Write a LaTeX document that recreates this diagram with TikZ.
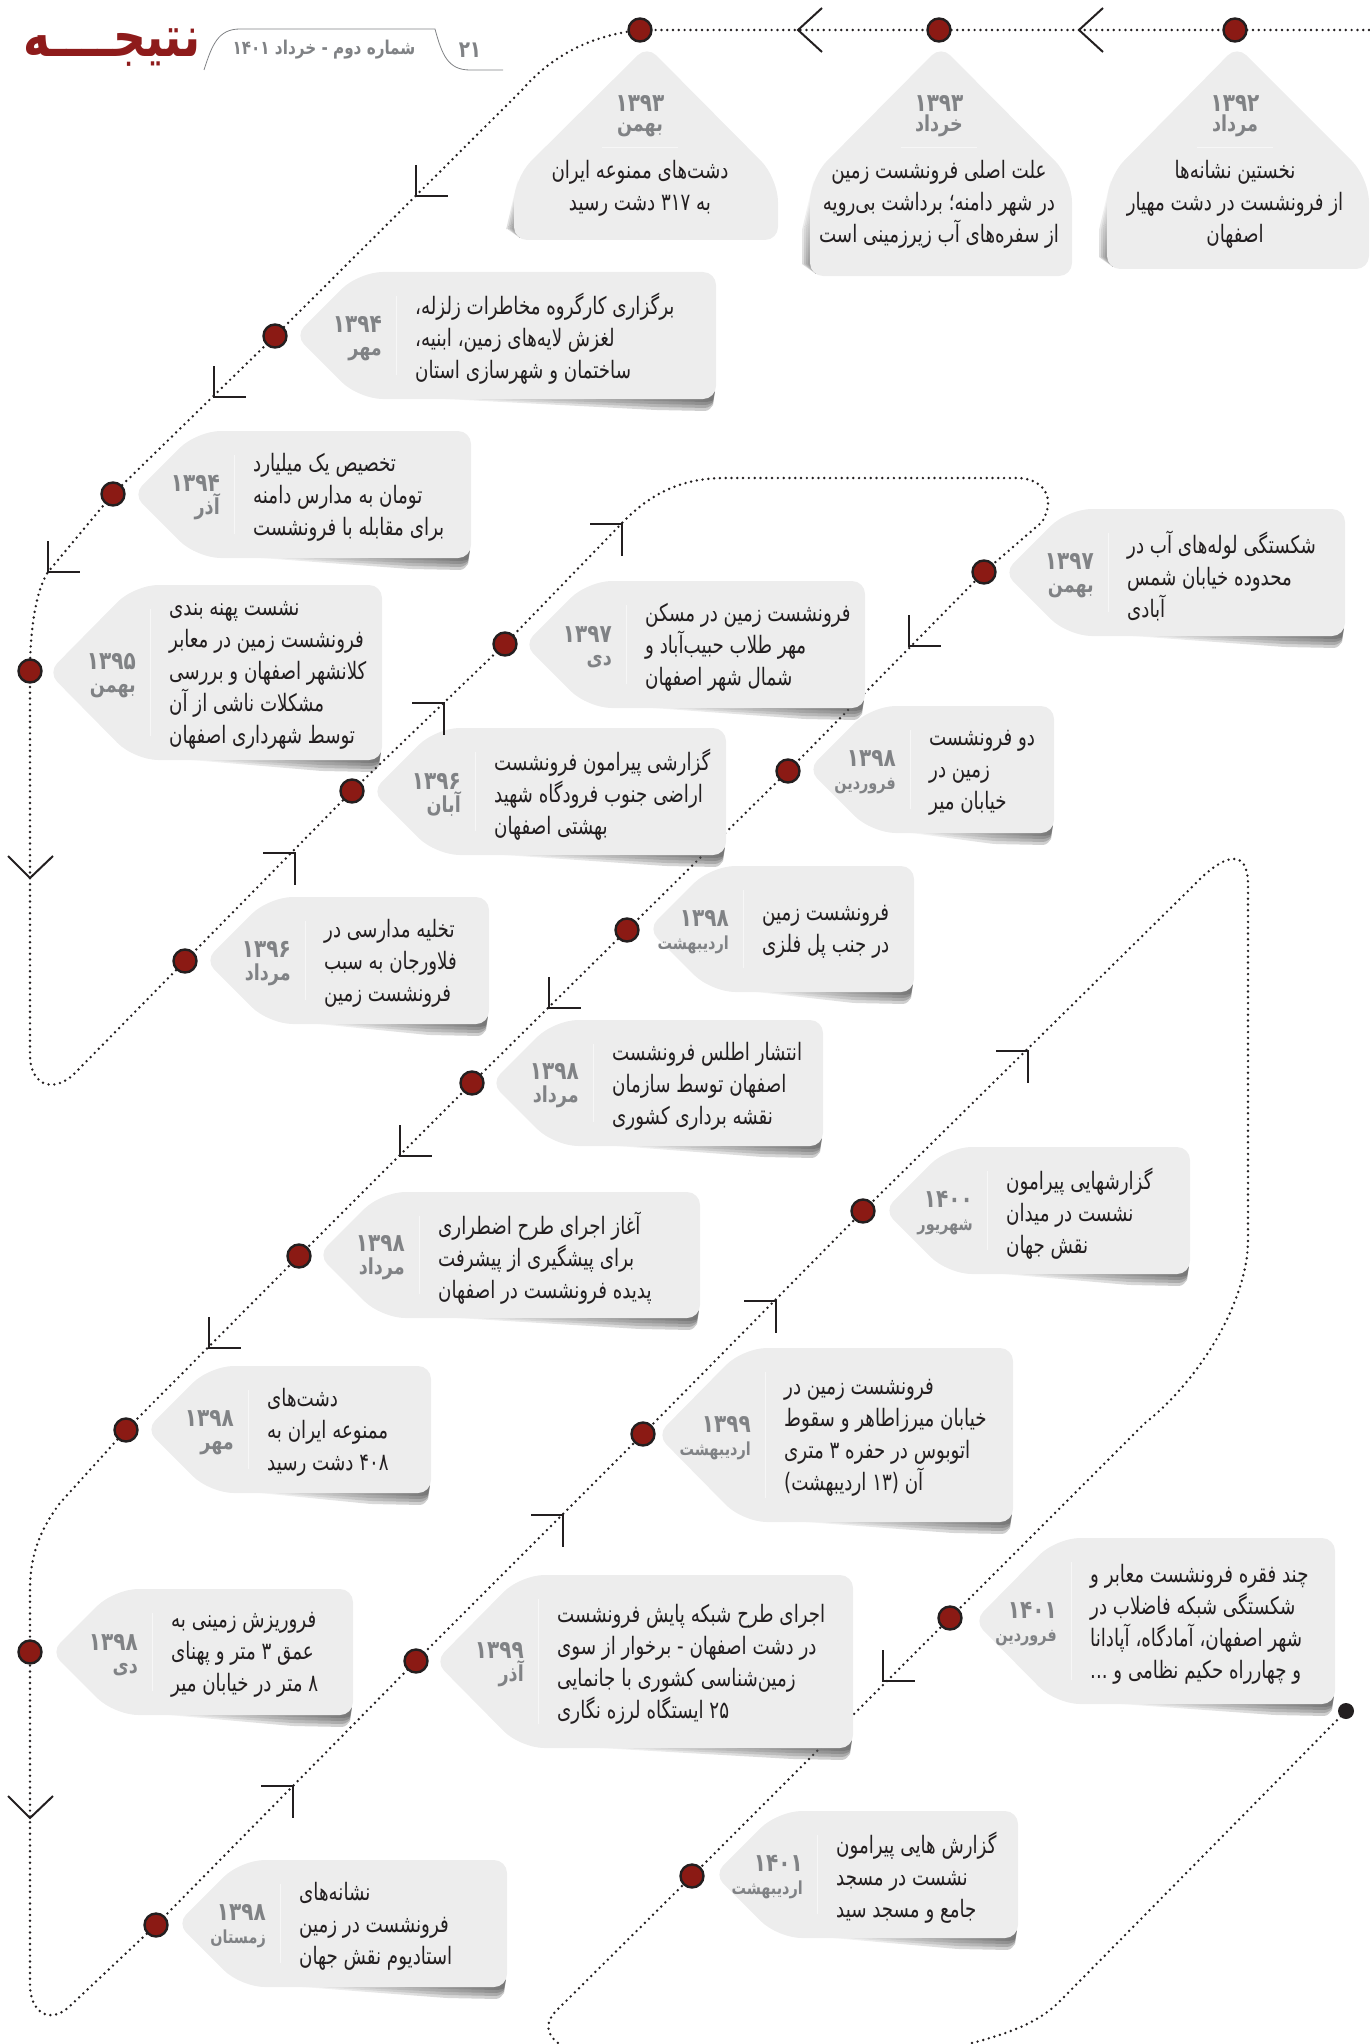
\documentclass[tikz,border=0pt]{standalone}
\usepackage{fontspec}
\usetikzlibrary{calc}
\TeXXeTstate=1
\newfontfamily\bodyf[Script=Arabic,FakeStretch=0.76]{DejaVu Sans}
\newfontfamily\yearf[Script=Arabic,FakeStretch=0.8]{DejaVu Sans Bold}
\definecolor{cardc}{HTML}{EDEDED}
\definecolor{yearc}{HTML}{808285}
\definecolor{inkc}{HTML}{231F20}
\definecolor{dotc}{HTML}{8B1A14}
\definecolor{logoc}{HTML}{8E1B1B}
\newcommand{\Rl}[1]{\beginR #1\endR}
\newcommand{\Ys}{\fontsize{25}{23}\selectfont}
\newcommand{\Ms}{\fontsize{22}{23}\selectfont}
\newcommand{\Mt}{\fontsize{18}{23}\selectfont}
\tikzset{
  tl/.style={line width=2.7pt,dash pattern=on 0pt off 5.8pt,line cap=round,draw=inkc},
  redot/.style={circle,fill=dotc,draw=inkc,line width=2.4pt,minimum size=23pt,inner sep=0pt},
  enddot/.style={circle,fill=inkc,minimum size=16pt,inner sep=0pt},
  markl/.style={draw=inkc,line width=2pt,line cap=butt},
  cardf/.style={fill=cardc},
  bodyt/.style={font=\bodyf\fontsize{24}{32}\selectfont,text=inkc,inner sep=0pt},
  yeart/.style={font=\yearf\fontsize{25}{23}\selectfont,text=yearc,inner sep=0pt,align=right,anchor=east},
  yeartop/.style={font=\yearf\fontsize{25}{20}\selectfont,text=yearc,inner sep=0pt,align=center,anchor=center},
  sepl/.style={draw=white!55!cardc,line width=1pt},
}
\pgfdeclarelayer{bglay}
\pgfdeclarelayer{midlay}
\pgfsetlayers{bglay,midlay,main}
% name, tip, top, bottom, right, year, month, sep, lines
\newcommand{\sidecard}[9]{%
  \pgfmathsetmacro{\mm}{(#3+#4)/2}%
  \pgfmathsetmacro{\sh}{#2+0.47*(#4-#3)}%
  \begin{pgfonlayer}{midlay}
  \foreach \dd in {3,6,9,12} {
    \shade[left color=white,right color=black!75,opacity=0.27]
      (\sh+10,#4-4) -- (#5-1,#4-8) -- (#5-3,#4+\dd/2) [rounded corners=3pt] -- (#5-8,#4+\dd) -- (#5-60,#4+\dd-1) -- cycle;
  }
  \fill[cardf,rounded corners=13pt] (#2-4,\mm) [rounded corners=24pt] -- (\sh,#3) [rounded corners=13pt] -- (#5,#3) -- (#5,#4) [rounded corners=24pt] -- (\sh,#4) [rounded corners=13pt] -- cycle;
  \draw[sepl] (#8,#3+24) -- (#8,#4-24);
  \end{pgfonlayer}
  \node[yeart] (#1y) at (#8-14,\mm+3) {\Rl{\Ys #6}\\\Rl{\Ms #7}};
  \node[bodyt,anchor=west,align=left] (#1t) at (#8+19,\mm+3) {#9};
}
% name, tipx, textx, left, right, bottom, year, month, lines
\newcommand{\topcard}[9]{%
  \begin{pgfonlayer}{midlay}
  \foreach \dd in {2,4,6,8} {
    \shade[top color=white,bottom color=black!60,opacity=0.27]
      (#4+4,178) -- (#4-\dd,230) -- (#4-\dd,#6-12) -- (#4+6,#6-2) -- cycle;
  }
  \fill[cardf,rounded corners=13pt] (#2,46) [rounded corners=24pt] -- (#5,178) [rounded corners=13pt] -- (#5,#6) -- (#4,#6) [rounded corners=24pt] -- (#4,178) [rounded corners=13pt] -- cycle;
  \draw[sepl] (#3-38,148) -- (#3+38,148);
  \end{pgfonlayer}
  \node[yeartop] (#1y) at (#3,116) {\Rl{\Ys #7}\\\Rl{\Ms #8}};
  \node[bodyt,anchor=north,align=center] (#1t) at (#3,160) {#9};
}
\newcommand{\markdl}[2]{\draw[markl] (#1,#2-31) -- (#1,#2) -- (#1+32,#2);}
\newcommand{\markur}[2]{\draw[markl] (#1-32,#2) -- (#1,#2) -- (#1,#2+32);}
\begin{document}
\begin{tikzpicture}[x=1pt,y=-1pt]
\useasboundingbox (0,0) rectangle (1369,2044);
% timeline dots
\foreach \n/\x/\y in {1/1235/30,2/939/30,3/640/30,4/275/336,5/113/494,6/30/671,7/185/961,8/352/791,9/505/644,10/984/572,11/788/771,12/627/930,13/472/1083,14/299/1256,15/126/1430,16/30/1652,17/156/1925,18/416/1661,19/643/1434,20/863/1211,21/950/1618,22/692/1876}
  \node[redot] (d\n) at (\x,\y) {};
\node[enddot] (dend) at (1346,1711) {};
\coordinate (startc) at (1369,30);
\coordinate (lefta) at (558,2043);
\coordinate (leftb) at (972,2043);
% the line
\begin{pgfonlayer}{bglay}
\draw[tl] (startc) -- (d1.center) -- (d2.center) -- (d3.center)
  .. controls (585,36) and (548,60) .. (522,90)
  -- (d4.center) -- (d5.center) -- (48,572)
  .. controls (36,590) and (30,630) .. (d6.center)
  -- (30,1055) .. controls (30,1082) and (50,1095) .. (73,1075)
  -- (d7.center) -- (d8.center) -- (d9.center) -- (625,520)
  .. controls (650,495) and (680,478) .. (725,478)
  -- (1017,478) .. controls (1040,478) and (1058,495) .. (1042,522)
  -- (d10.center) -- (d11.center) -- (d12.center) -- (d13.center) -- (d14.center) -- (d15.center) -- (60,1503)
  .. controls (40,1530) and (30,1555) .. (30,1590)
  -- (d16.center) -- (30,1985) .. controls (30,2012) and (50,2026) .. (71,2005)
  -- (d17.center) -- (d18.center) -- (d19.center) -- (d20.center) -- (1195,884)
  .. controls (1222,856) and (1248,845) .. (1248,885)
  -- (1248,1240) .. controls (1248,1300) and (1200,1380) .. (1145,1423)
  -- (d21.center) -- (d22.center) -- (556,2011)
  .. controls (545,2022) and (546,2034) .. (lefta);
\draw[tl] (leftb) .. controls (1010,2033) and (1040,2022) .. (1061,2000) -- (dend.center);
\end{pgfonlayer}
% chevrons
\foreach \x in {798,1079} \draw[markl] (\x+24,8) -- (\x,30) -- (\x+24,52);
\foreach \y in {878,1818} \draw[markl] (8,\y-22) -- (30,\y) -- (53,\y-22);
% corner marks
\markdl{416}{196}\markdl{214}{397}\markdl{48}{572}\markdl{909}{646}\markdl{549}{1008}\markdl{400}{1156}\markdl{209}{1348}\markdl{883}{1681}
\markur{622}{524}\markur{444}{703}\markur{295}{853}\markur{1028}{1051}\markur{776}{1301}\markur{563}{1515}\markur{293}{1786}
% header
\draw[yearc,line width=0.8pt] (204,70) .. controls (212,45) and (218,29) .. (240,29) -- (435,29) .. controls (442,55) and (448,70) .. (470,70) -- (503,70);
\node[font=\yearf\fontsize{19}{22}\selectfont,text=yearc,inner sep=0pt] (issue) at (324,50) {\Rl{شماره دوم - خرداد ۱۴۰۱}};
\node[font=\yearf\fontsize{23}{25}\selectfont,text=yearc,inner sep=0pt] (pagen) at (470,50) {\Rl{۲۱}};
\node[font=\yearf\fontsize{57}{60}\selectfont,text=logoc,inner sep=0pt] (logo) at (112,48) {\Rl{نتیجــــه}};
% cards
\topcard{c1}{1237}{1235}{1107}{1369}{269}{۱۳۹۲}{مرداد}{\Rl{نخستین نشانه‌ها}\\\Rl{از فرونشست در دشت مهیار}\\\Rl{اصفهان}}
\topcard{c2}{941}{939}{810}{1072}{276}{۱۳۹۳}{خرداد}{\Rl{علت اصلی فرونشست زمین}\\\Rl{در شهر دامنه؛ برداشت بی‌رویه}\\\Rl{از سفره‌های آب زیرزمینی است}}
\topcard{c3}{647}{640}{514}{778}{240}{۱۳۹۳}{بهمن}{\Rl{دشت‌های ممنوعه ایران}\\\Rl{به ۳۱۷ دشت رسید}}
\sidecard{c4}{299}{272}{399}{716}{۱۳۹۴}{مهر}{396}{\Rl{برگزاری کارگروه مخاطرات زلزله،}\\\Rl{لغزش لایه‌های زمین، ابنیه،}\\\Rl{ساختمان و شهرسازی استان}}
\sidecard{c5}{137}{431}{558}{471}{۱۳۹۴}{آذر}{234}{\Rl{تخصیص یک میلیارد}\\\Rl{تومان به مدارس دامنه}\\\Rl{برای مقابله با فرونشست}}
\sidecard{c6}{52}{585}{760}{382}{۱۳۹۵}{بهمن}{150}{\Rl{نشست پهنه بندی}\\\Rl{فرونشست زمین در معابر}\\\Rl{کلانشهر اصفهان و بررسی}\\\Rl{مشکلات ناشی از آن}\\\Rl{توسط شهرداری اصفهان}}
\sidecard{c7}{209}{897}{1024}{489}{۱۳۹۶}{مرداد}{305}{\Rl{تخلیه مدارسی در}\\\Rl{فلاورجان به سبب}\\\Rl{فرونشست زمین}}
\sidecard{c8}{376}{728}{855}{726}{۱۳۹۶}{آبان}{475}{\Rl{گزارشی پیرامون فرونشست}\\\Rl{اراضی جنوب فرودگاه شهید}\\\Rl{بهشتی اصفهان}}
\sidecard{c9}{528}{581}{708}{865}{۱۳۹۷}{دی}{626}{\Rl{فرونشست زمین در مسکن}\\\Rl{مهر طلاب حبیب‌آباد و}\\\Rl{شمال شهر اصفهان}}
\sidecard{c10}{1008}{509}{636}{1345}{۱۳۹۷}{بهمن}{1108}{\Rl{شکستگی لوله‌های آب در}\\\Rl{محدوده خیابان شمس}\\\Rl{آبادی}}
\sidecard{c11}{812}{706}{833}{1054}{۱۳۹۸}{\Mt فروردین}{910}{\Rl{دو فرونشست}\\\Rl{زمین در}\\\Rl{خیابان میر}}
\sidecard{c12}{652}{866}{992}{914}{۱۳۹۸}{\Mt اردیبهشت}{743}{\Rl{فرونشست زمین}\\\Rl{در جنب پل فلزی}}
\sidecard{c13}{495}{1020}{1146}{823}{۱۳۹۸}{مرداد}{593}{\Rl{انتشار اطلس فرونشست}\\\Rl{اصفهان توسط سازمان}\\\Rl{نقشه برداری کشوری}}
\sidecard{c14}{322}{1192}{1318}{700}{۱۳۹۸}{مرداد}{419}{\Rl{آغاز اجرای طرح اضطراری}\\\Rl{برای پیشگیری از پیشرفت}\\\Rl{پدیده فرونشست در اصفهان}}
\sidecard{c15}{150}{1366}{1493}{431}{۱۳۹۸}{مهر}{248}{\Rl{دشت‌های}\\\Rl{ممنوعه ایران به}\\\Rl{۴۰۸ دشت رسید}}
\sidecard{c16}{55}{1589}{1715}{353}{۱۳۹۸}{دی}{152}{\Rl{فروریزش زمینی به}\\\Rl{عمق ۳ متر و پهنای}\\\Rl{۸ متر در خیابان میر}}
\sidecard{c17}{181}{1860}{1987}{507}{۱۳۹۸}{\Mt زمستان}{280}{\Rl{نشانه‌های}\\\Rl{فرونشست در زمین}\\\Rl{استادیوم نقش جهان}}
\sidecard{c18}{439}{1575}{1748}{853}{۱۳۹۹}{آذر}{538}{\Rl{اجرای طرح شبکه پایش فرونشست}\\\Rl{در دشت اصفهان - برخوار از سوی}\\\Rl{زمین‌شناسی کشوری با جانمایی}\\\Rl{۲۵ ایستگاه لرزه نگاری}}
\sidecard{c19}{661}{1348}{1522}{1013}{۱۳۹۹}{\Mt اردیبهشت}{765}{\Rl{فرونشست زمین در}\\\Rl{خیابان میرزاطاهر و سقوط}\\\Rl{اتوبوس در حفره ۳ متری}\\\Rl{آن (۱۳ اردیبهشت)}}
\sidecard{c20}{888}{1147}{1274}{1190}{۱۴۰۰}{\Mt شهریور}{987}{\Rl{گزارشهایی پیرامون}\\\Rl{نشست در میدان}\\\Rl{نقش جهان}}
\sidecard{c21}{978}{1538}{1704}{1335}{۱۴۰۱}{\Mt فروردین}{1071}{\Rl{چند فقره فرونشست معابر و}\\\Rl{شکستگی شبکه فاضلاب در}\\\Rl{شهر اصفهان، آمادگاه، آپادانا}\\\Rl{و چهارراه حکیم نظامی و ...}}
\sidecard{c22}{718}{1811}{1938}{1018}{۱۴۰۱}{\Mt اردیبهشت}{817}{\Rl{گزارش هایی پیرامون}\\\Rl{نشست در مسجد}\\\Rl{جامع و مسجد سید}}
\end{tikzpicture}
\end{document}
